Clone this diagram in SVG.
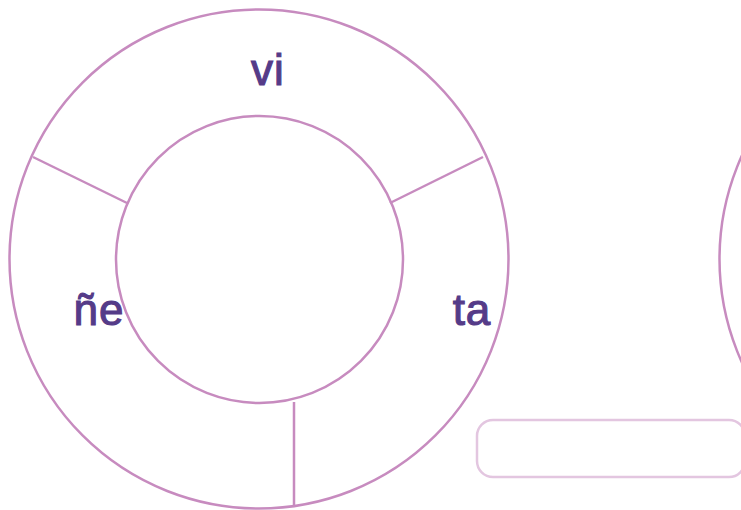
<svg xmlns="http://www.w3.org/2000/svg" width="741" height="510" viewBox="0 0 741 510">
<style>
.ring{fill:none;stroke:#c78bbf;stroke-width:2.5}
.div{stroke:#c78bbf;stroke-width:2.5}
.lbl{font-family:"Liberation Sans",Arial,sans-serif;font-size:44px;fill:#553b88;stroke:#553b88;stroke-width:1.1;letter-spacing:1px;text-anchor:middle}
.box{fill:none;stroke:#e3c6e0;stroke-width:2.5}
</style>
<rect width="741" height="510" fill="#ffffff"/>
<g id="wheel">
<circle class="ring" cx="259" cy="259" r="249.5"/>
<circle class="ring" cx="259.5" cy="259.5" r="143.5"/>
</g>
<g id="dividers">
<line class="div" x1="33" y1="157" x2="127" y2="203"/>
<line class="div" x1="390" y1="203" x2="483" y2="157"/>
<line class="div" x1="294" y1="402" x2="294" y2="507"/>
</g>
<g id="label-vi"><text class="lbl" x="268" y="85">vi</text></g>
<g id="label-ne"><text class="lbl" x="99" y="325">ñe</text></g>
<g id="label-ta"><text class="lbl" x="472" y="325">ta</text></g>
<g id="wheel2">
<circle class="ring" cx="969" cy="259" r="249.5"/>
</g>
<g id="box">
<rect class="box" x="477" y="420" width="268" height="57" rx="16"/>
</g>
</svg>
